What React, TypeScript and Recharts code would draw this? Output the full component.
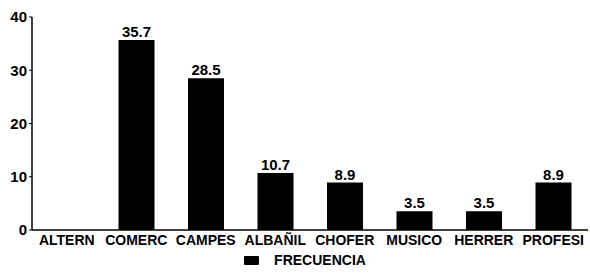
import React from 'react';
import { BarChart, Bar, XAxis, YAxis, Legend, LabelList } from 'recharts';

const categories = ['ALTERN', 'COMERC', 'CAMPES', 'ALBAÑIL', 'CHOFER', 'MUSICO', 'HERRER', 'PROFESI'];
const frecuencia = [0, 35.7, 28.5, 10.7, 8.9, 3.5, 3.5, 8.9];
const yTicks = [0, 10, 20, 30, 40];

const data = categories.map((name, i) => ({ name, frecuencia: frecuencia[i] }));

const FONT = '"Liberation Sans Narrow", "Arial Narrow", "Liberation Sans", sans-serif';

const renderLegend = () => (
  <div style={{ display: 'flex', justifyContent: 'center', alignItems: 'center', fontFamily: FONT, fontWeight: 'bold', fontSize: 14, color: '#000', paddingLeft: 22 }}>
    <span style={{ display: 'inline-block', width: 15, height: 9, background: '#000', marginRight: 15, borderRadius: 1 }} />
    FRECUENCIA
  </div>
);

export default function App() {
  return (
    <div style={{ position: 'absolute', left: 0, top: 0, width: 590, height: 280, background: '#fff' }}>
      <BarChart
        width={590}
        height={280}
        data={data}
        margin={{ top: 17, right: 2, left: 0, bottom: 12 }}
        barCategoryGap={17}
      >
        <XAxis
          dataKey="name"
          interval={0}
          tickLine={false}
          axisLine={{ stroke: '#000', strokeWidth: 1.5 }}
          tick={{ fill: '#000', fontFamily: FONT, fontWeight: 'bold', fontSize: 14 }}
          tickMargin={-1}
          height={22}
        />
        <YAxis
          domain={[0, 40]}
          ticks={yTicks}
          width={32}
          tickSize={3}
          axisLine={{ stroke: '#000', strokeWidth: 1.5 }}
          tickLine={{ stroke: '#000' }}
          tick={{ fill: '#000', fontFamily: FONT, fontWeight: 'bold', fontSize: 15 }}
        />
        <Legend verticalAlign="bottom" height={16} content={renderLegend} />
        <Bar dataKey="frecuencia" fill="#000" isAnimationActive={false}>
          <LabelList
            dataKey="frecuencia"
            position="top"
            offset={3}
            formatter={(v: number) => (v ? v.toFixed(1) : '')}
            style={{ fill: '#000', fontFamily: FONT, fontWeight: 'bold', fontSize: 15 }}
          />
        </Bar>
      </BarChart>
    </div>
  );
}
